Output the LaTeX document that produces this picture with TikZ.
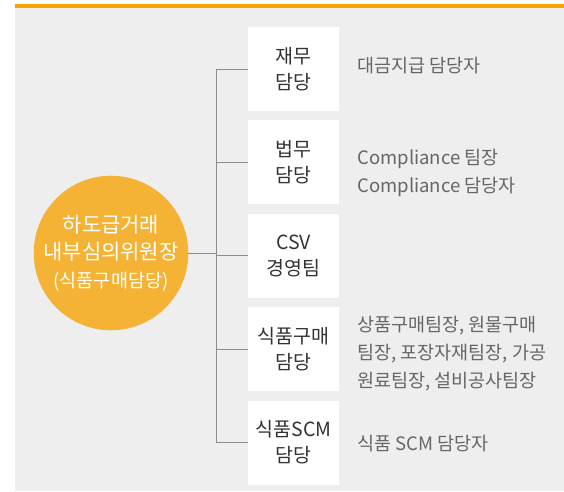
\documentclass[tikz,border=0pt]{standalone}
\usepackage{fontspec}
\setmainfont{Noto Sans CJK KR}
\definecolor{BarOrange}{HTML}{F5A500}
\definecolor{PanelGray}{HTML}{EEEEEE}
\definecolor{HeadGold}{HTML}{F5B335}
\definecolor{LinkGray}{HTML}{8C8C8C}
\definecolor{BoxInk}{HTML}{333333}
\definecolor{NoteInk}{HTML}{666666}
\usetikzlibrary{positioning}
\tikzset{
  dutybox/.style={fill=white,minimum width=91pt,minimum height=84pt,
    inner sep=0pt,align=center,text=BoxInk,
    font=\fontsize{19.5}{26}\selectfont},
  dutynote/.style={anchor=west,align=left,inner sep=0pt,text=NoteInk,
    font=\fontsize{18.5}{28}\selectfont},
  link/.style={draw=LinkGray,line width=1pt}
}

\begin{document}
\begin{tikzpicture}[x=1pt,y=-1pt]
  \useasboundingbox (0,0) rectangle (564,491);
  % Panel and top bar
  \fill[PanelGray] (15,7) rectangle (564,491);
  \fill[BarOrange] (15,4) rectangle (564,7.5);
  % Committee head
  \node[circle,fill=HeadGold,minimum size=154pt,inner sep=0pt,
    align=center,text=white,font=\fontsize{21}{27.5}\selectfont]
    (head) at (111,253)
    {하도급거래\\내부심의위원장\\{\fontsize{18.5}{27.5}\selectfont(식품구매담당)}};
  % Duty boxes
  \node[dutybox] (fin) at (293.5,69) {재무\\담당};
  \node[dutybox,below=9pt of fin] (law) {법무\\담당};
  \node[dutybox,below=9pt of law] (csv) {CSV\\경영팀};
  \node[dutybox,below=9pt of csv] (food) {식품구매\\담당};
  \node[dutybox,below=9pt of food] (scm) {식품SCM\\담당};
  % Persons in charge
  \node[dutynote,right=18pt of fin,yshift=3pt] (finnote) {대금지급 담당자};
  \node[dutynote,right=18pt of law,yshift=-11pt]
    (lawnote) {Compliance 팀장\\Compliance 담당자};
  \node[dutynote,right=18pt of food,yshift=-4pt]
    (foodnote) {상품구매팀장, 원물구매\\팀장, 포장자재팀장, 가공\\원료팀장, 설비공사팀장};
  \node[dutynote,right=18pt of scm,yshift=-1pt] (scmnote) {식품 SCM 담당자};
  % Connectors
  \coordinate (jt) at (216.5,253);
  \draw[link] (head.east) -- (jt);
  \foreach \b in {fin,law,csv,food,scm}
    \draw[link] (\b.west) -| (jt);
\end{tikzpicture}
\end{document}
